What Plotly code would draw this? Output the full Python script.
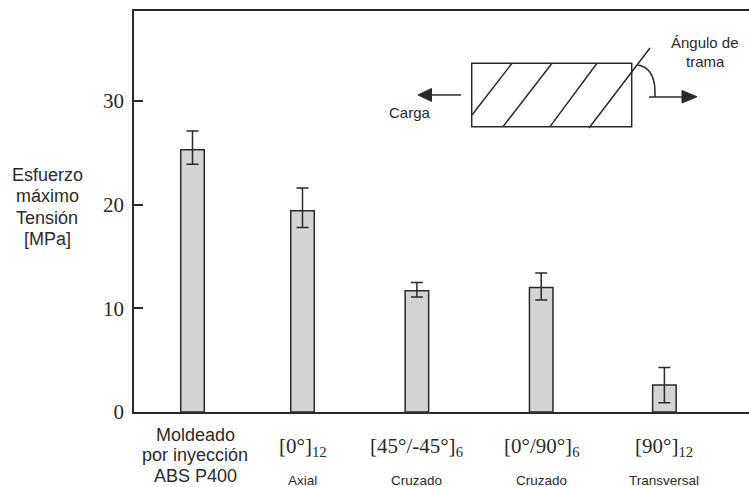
import plotly.graph_objects as go

# ---------------- data ----------------
categories = ["Moldeado por inyección ABS P400", "[0°]12", "[45°/-45°]6", "[0°/90°]6", "[90°]12"]
x_pos = [0, 1, 2.04, 3.17, 4.29]
values = [25.3, 19.4, 11.7, 12.0, 2.6]
err_plus = [1.8, 2.2, 0.8, 1.4, 1.7]
err_minus = [1.4, 1.6, 0.6, 1.2, 1.7]
main_labels = [None, "[0°]<sub>12</sub>", "[45°/-45°]<sub>6</sub>", "[0°/90°]<sub>6</sub>", "[90°]<sub>12</sub>"]
sub_labels = [None, "Axial", "Cruzado", "Cruzado", "Transversal"]
first_label_lines = ["Moldeado", "por inyección", "ABS P400"]
ytitle_lines = ["Esfuerzo", "máximo", "Tensión", "[MPa]"]
y_ticks = [0, 10, 20, 30]

# ---------------- layout geometry ----------------
W, H = 749, 487
L, T, R, B = 134, 11, 749, 412.2
SANS = "Liberation Sans, Arial, sans-serif"
SERIF = "Liberation Serif, Times New Roman, serif"
INK = "#2a2a2a"


def px(x):
    return (x - L) / (R - L)


def py(y):
    return (B - y) / (B - T)


fig = go.Figure()
fig.add_trace(go.Bar(
    x=x_pos, y=values, width=0.214,
    marker=dict(color="#d4d4d4", line=dict(color=INK, width=1.5)),
    error_y=dict(type="data", symmetric=False, array=err_plus, arrayminus=err_minus,
                 color=INK, thickness=1.5, width=6),
    hoverinfo="skip",
))

ann = []
# category labels
for xv, m, s in zip(x_pos, main_labels, sub_labels):
    if m:
        ann.append(dict(x=xv, y=py(447), xref="x", yref="paper", text=m, showarrow=False,
                        xanchor="center", yanchor="middle",
                        font=dict(family=SERIF, size=21, color=INK)))
        ann.append(dict(x=xv, y=py(481), xref="x", yref="paper", text=s, showarrow=False,
                        xanchor="center", yanchor="middle",
                        font=dict(family=SANS, size=13.5, color=INK)))
for i, t in enumerate(first_label_lines):
    ann.append(dict(x=px(195), y=py(435 + 20.5 * i), xref="paper", yref="paper", text=t,
                    showarrow=False, xanchor="center", yanchor="middle",
                    font=dict(family=SANS, size=18, color=INK)))
for i, t in enumerate(ytitle_lines):
    ann.append(dict(x=px(47), y=py(175 + 21.5 * i), xref="paper", yref="paper", text=t,
                    showarrow=False, xanchor="center", yanchor="middle",
                    font=dict(family=SANS, size=18, color=INK)))
# diagram texts
ann.append(dict(x=px(410), y=py(113), xref="paper", yref="paper", text="Carga", showarrow=False,
                xanchor="center", yanchor="middle", font=dict(family=SANS, size=15, color=INK)))
ann.append(dict(x=px(705), y=py(43), xref="paper", yref="paper", text="Ángulo de", showarrow=False,
                xanchor="center", yanchor="middle", font=dict(family=SANS, size=15, color=INK)))
ann.append(dict(x=px(705), y=py(62), xref="paper", yref="paper", text="trama", showarrow=False,
                xanchor="center", yanchor="middle", font=dict(family=SANS, size=15, color=INK)))

# diagram shapes
shapes = []
line_style = dict(color=INK, width=1.5)
shapes.append(dict(type="rect", xref="paper", yref="paper", x0=px(471.7), y0=py(126.7),
                   x1=px(631.7), y1=py(63.3), line=line_style))
for (x0, y0, x1, y1) in [(472, 115, 512, 63.3), (503, 126.7, 552, 63.3),
                         (550, 126.7, 597, 63.3), (589, 128, 650, 48)]:
    shapes.append(dict(type="line", xref="paper", yref="paper", x0=px(x0), y0=py(y0),
                       x1=px(x1), y1=py(y1), line=line_style))
# angle arc
arc = "M {},{} C {},{} {},{} {},{} L {},{}".format(
    px(637), py(65), px(648), py(66), px(655), py(75), px(655), py(92), px(655), py(97))
shapes.append(dict(type="path", xref="paper", yref="paper", path=arc, line=line_style))
# right arrow
shapes.append(dict(type="line", xref="paper", yref="paper", x0=px(649), y0=py(97),
                   x1=px(684), y1=py(97), line=line_style))
tri_r = "M {},{} L {},{} L {},{} Z".format(px(682), py(90.5), px(697), py(96.8), px(682), py(103))
shapes.append(dict(type="path", xref="paper", yref="paper", path=tri_r,
                   fillcolor=INK, line=dict(color=INK, width=1)))
# left arrow
shapes.append(dict(type="line", xref="paper", yref="paper", x0=px(461), y0=py(95),
                   x1=px(429), y1=py(95), line=line_style))
tri_l = "M {},{} L {},{} L {},{} Z".format(px(431.5), py(88.5), px(418), py(95), px(431.5), py(101.5))
shapes.append(dict(type="path", xref="paper", yref="paper", path=tri_l,
                   fillcolor=INK, line=dict(color=INK, width=1)))

fig.update_layout(
    width=W, height=H,
    margin=dict(l=L, r=W - R, t=T, b=H - B),
    paper_bgcolor="white", plot_bgcolor="white",
    showlegend=False,
    annotations=ann, shapes=shapes,
    xaxis=dict(range=[(L - 192.5) / 110, (R - 192.5) / 110], showticklabels=False,
               ticks="", showgrid=False, zeroline=False, showline=True, mirror=True,
               linecolor=INK, linewidth=1.5, fixedrange=True),
    yaxis=dict(range=[0, (B - T) / 10.373], tickvals=y_ticks, ticks="inside", ticklen=9,
               tickwidth=1.5, tickcolor=INK, showgrid=False, zeroline=False, showline=True,
               mirror=False, linecolor=INK, linewidth=1.5, ticklabelstandoff=4,
               tickfont=dict(family=SERIF, size=21, color=INK), fixedrange=True),
)

fig.write_html("out.html")
